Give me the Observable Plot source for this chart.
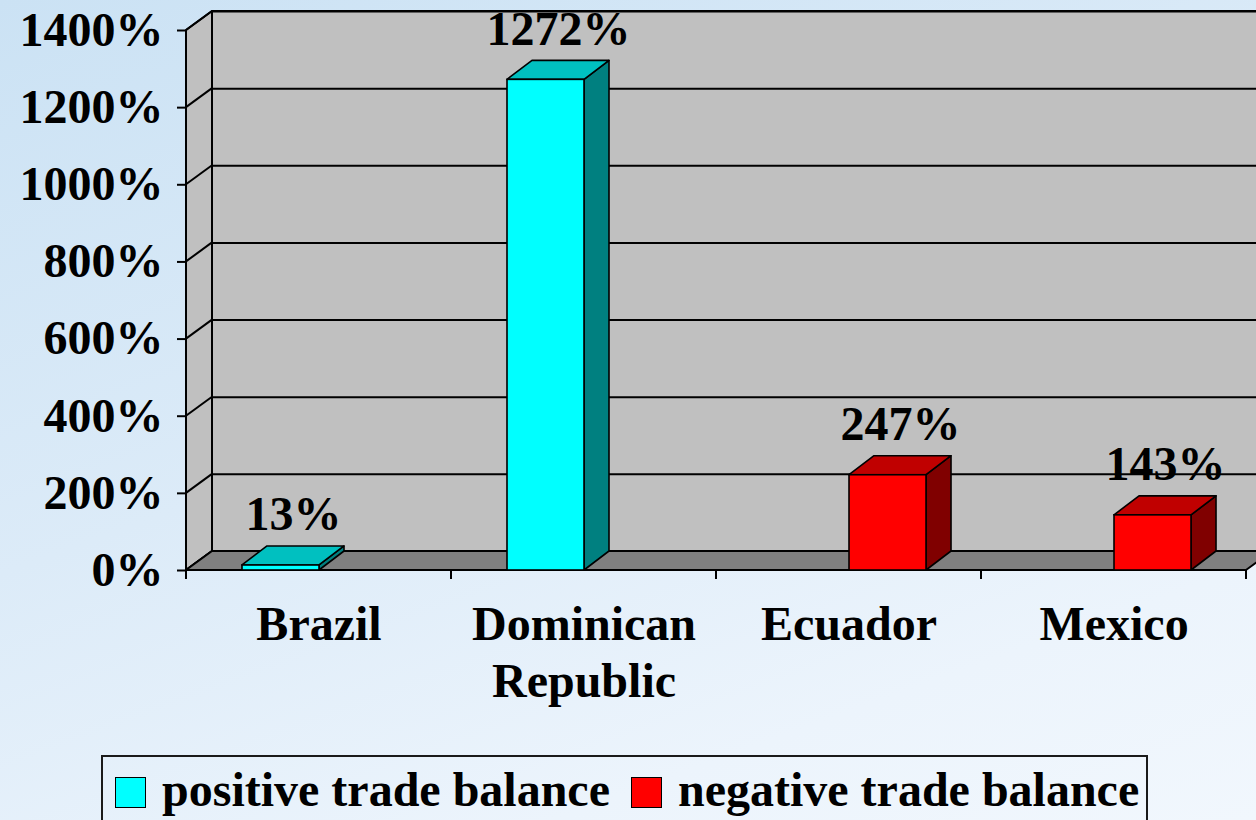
<!DOCTYPE html>
<html>
<head>
<meta charset="utf-8">
<script src="https://cdn.jsdelivr.net/npm/d3@7"></script>
<script src="https://cdn.jsdelivr.net/npm/@observablehq/plot@0.6"></script>
<style>
html, body { margin: 0; padding: 0; width: 1256px; height: 820px; overflow: hidden; }
body {
  background: linear-gradient(160deg, #cbe2f4 0%, #dcebf8 45%, #ecf4fc 80%, #f1f7fd 100%);
  font-family: "Liberation Serif", "Times New Roman", serif;
  font-weight: bold;
}
#chart { position: absolute; left: 0; top: 0; }
#legend {
  position: absolute; left: 101px; top: 755px; width: 1047px; height: 90px;
  border: 2px solid #1a1a1a; box-sizing: border-box;
  display: flex; align-items: flex-start; padding: 9px 0 0 12px;
  font-size: 48px; line-height: 48px; color: #000; white-space: nowrap;
}
#legend .sw { width: 31px; height: 31px; box-sizing: border-box; border: 1.5px solid #000; margin-top: 11px; flex: none; }
#legend .tx { margin-left: 16px; margin-right: 21px; }
</style>
</head>
<body>
<div id="chart"></div>
<div id="legend"></div>
<script>
// ---- data ----
const categories = ["Brazil", "Dominican Republic", "Ecuador", "Mexico"];
const categoryLabels = ["Brazil", "Dominican\nRepublic", "Ecuador", "Mexico"];
const seriesNames = ["positive trade balance", "negative trade balance"];
const positive = [13, 1272, null, null];
const negative = [null, null, 247, 143];
const yTicks = [0, 200, 400, 600, 800, 1000, 1200, 1400];

// ---- styles ----
const faceColors = [
  {front: "#00ffff", top: "#00c0c0", side: "#008080"},
  {front: "#ff0000", top: "#c00000", side: "#800000"}
];
const W = 1256, H = 750;
const mL = 186, mR = 10, mT = 30, mB = 180;
const DX = 26, DY = -19;      // wall depth
const BDX = 25, BDY = -19;    // bar depth
const GAP = 0.2113, BARW = 0.2906; // fractions of a category band
const bw = (W - mL - mR) / categories.length;

const seriesValues = [positive, negative];
const rows = [];
seriesValues.forEach((vals, s) => vals.forEach((v, i) => {
  if (v != null) rows.push({category: categories[i], series: s, value: v});
}));

function poly(g, pts, fill, sw) {
  g.append("path")
    .attr("d", "M" + pts.map(p => p.join(",")).join("L") + "Z")
    .attr("fill", fill).attr("stroke", "#000").attr("stroke-width", sw)
    .attr("stroke-linejoin", "round");
}

// back wall + side wall with its gridlines
function wallsMark(index, scales) {
  const {x, y} = scales;
  const [x0, x1] = x.range();
  const y0 = y(0), yT = y(yTicks[yTicks.length - 1]);
  const g = d3.create("svg:g");
  poly(g, [[x0 + DX, yT + DY], [x1 + DX + 60, yT + DY], [x1 + DX + 60, y0 + DY], [x0 + DX, y0 + DY]], "#c0c0c0", 2);
  poly(g, [[x0, y0], [x0, yT], [x0 + DX, yT + DY], [x0 + DX, y0 + DY]], "#c0c0c0", 2);
  for (const t of yTicks) {
    g.append("line").attr("x1", x0).attr("y1", y(t)).attr("x2", x0 + DX).attr("y2", y(t) + DY)
      .attr("stroke", "#000").attr("stroke-width", 2);
  }
  return g.node();
}

// floor
function floorMark(index, scales) {
  const {x, y} = scales;
  const [x0, x1] = x.range();
  const y0 = y(0);
  const g = d3.create("svg:g");
  poly(g, [[x0, y0], [x1, y0], [x1 + DX, y0 + DY], [x0 + DX, y0 + DY]], "#808080", 2);
  // x tick marks at category boundaries
  const bounds = categories.map(c => x(c)).concat([x1]);
  for (const b of bounds) {
    g.append("line").attr("x1", b).attr("y1", y0).attr("x2", b).attr("y2", y0 + 9)
      .attr("stroke", "#000").attr("stroke-width", 2);
  }
  return g.node();
}

// bar top and side faces
function barFacesMark(index, scales) {
  const {x, y} = scales;
  const band = x.bandwidth ? x.bandwidth() : bw;
  const g = d3.create("svg:g");
  for (const d of rows) {
    const xl = x(d.category) + band * (GAP + d.series * BARW);
    const xr = xl + band * BARW;
    const yt = y(d.value), yb = y(0);
    const c = faceColors[d.series];
    poly(g, [[xr, yb], [xr, yt], [xr + BDX, yt + BDY], [xr + BDX, yb + BDY]], c.side, 1.6);
    poly(g, [[xl, yt], [xr, yt], [xr + BDX, yt + BDY], [xl + BDX, yt + BDY]], c.top, 1.6);
  }
  return g.node();
}

const marks = [
  wallsMark,
  Plot.ruleY(yTicks.slice(1), {stroke: "#000", strokeWidth: 2, dx: DX, dy: DY}),
  floorMark,
  barFacesMark
];
[0, 1].forEach(s => {
  marks.push(Plot.barY(rows.filter(d => d.series === s), {
    x: "category", y: "value", fill: faceColors[s].front, stroke: "#000", strokeWidth: 1.6,
    insetLeft: bw * (GAP + s * BARW), insetRight: bw * (1 - GAP - (s + 1) * BARW)
  }));
  marks.push(Plot.text(rows.filter(d => d.series === s), {
    x: "category", y: "value", text: d => d.value + "%",
    dx: bw * (GAP + (s + 0.5) * BARW) - bw / 2 + BDX / 2, dy: -35,
    lineAnchor: "bottom", textAnchor: "middle", fontSize: 48, fontWeight: "bold", fill: "#000"
  }));
});
marks.push(Plot.axisY(yTicks, {
  tickFormat: d => d + "%", tickSize: 9, tickPadding: 14, fontSize: 48, fontWeight: "bold",
  strokeWidth: 2, label: null, fill: "#000", stroke: "#000"
}));
marks.push(Plot.axisX({
  tickSize: 0, tickPadding: 29, fontSize: 48, fontWeight: "bold", lineHeight: 1.19,
  tickFormat: c => categoryLabels[categories.indexOf(c)], label: null, fill: "#000"
}));

const chart = Plot.plot({
  width: W, height: H,
  marginLeft: mL, marginRight: mR, marginTop: mT, marginBottom: mB,
  style: {background: "transparent", fontFamily: "'Liberation Serif', 'Times New Roman', serif", fontWeight: "bold", fontSize: "48px", color: "#000", overflow: "visible"},
  x: {type: "band", domain: categories, padding: 0, label: null},
  y: {domain: [yTicks[0], yTicks[yTicks.length - 1]], label: null},
  marks
});
document.getElementById("chart").appendChild(chart);

// legend
const legend = document.getElementById("legend");
seriesNames.forEach((name, s) => {
  const sw = document.createElement("span");
  sw.className = "sw"; sw.style.background = faceColors[s].front;
  const tx = document.createElement("span");
  tx.className = "tx"; tx.textContent = name;
  legend.appendChild(sw); legend.appendChild(tx);
});
</script>
</body>
</html>
